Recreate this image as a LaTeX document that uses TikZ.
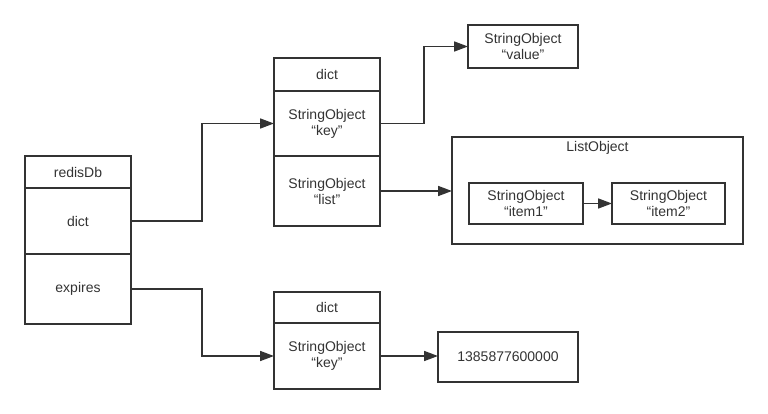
\documentclass[tikz,border=0pt]{standalone}
\usepackage{fontspec}
\setmainfont{Liberation Sans}
\usepackage{tikz}
\usetikzlibrary{arrows.meta,calc,positioning}
\definecolor{linegray}{HTML}{333333}
\tikzset{>={Triangle[length=14pt,width=10pt]},
	field/.style={% one row of a struct box
		draw=linegray, rectangle,
		line width=1.6pt,
		outer sep=0pt,
		text=linegray,
		align=center,
		font=\fontsize{14}{16}\selectfont
	},
	link/.style={
		draw=linegray,
		line width=1.6pt
	}
}
\begin{document}
\begin{tikzpicture}[x=1pt,y=-1pt]
	\useasboundingbox (0,0) rectangle (768,414);
	% redisDb
	\node [field, minimum width=106pt, minimum height=32pt] (db) at (78,172) {redisDb};
	\node [field, minimum width=106pt, minimum height=66pt] (db-dict) at (78,221) {dict};
	\node [field, minimum width=106pt, minimum height=70pt] (db-exp) at (78,289) {expires};
	% dict
	\node [field, minimum width=106pt, minimum height=33pt] (d1) at (327,74.5) {dict};
	\node [field, minimum width=106pt, minimum height=65pt] (d1-key) at (327,123.5) {StringObject\\“key”};
	\node [field, minimum width=106pt, minimum height=70pt] (d1-list) at (327,191) {StringObject\\“list”};
	\node [field, minimum width=110pt, minimum height=43pt] (val) at (523,46.5) {StringObject\\“value”};
	% list object
	\node [field, minimum width=291pt, minimum height=107pt] (lobj) at (597.5,190.5) {};
	\node [field, draw=none] (lobj-title) at (597.5,148) {ListObject};
	\node [field, minimum width=114pt, minimum height=41pt] (item1) at (526,203.5) {StringObject\\“item1”};
	\node [field, minimum width=113pt, minimum height=41pt] (item2) at (668.5,203.5) {StringObject\\“item2”};
	% expires
	\node [field, minimum width=106pt, minimum height=31pt] (d2) at (327,307.5) {dict};
	\node [field, minimum width=106pt, minimum height=66pt] (d2-key) at (327,356) {StringObject\\“key”};
	\node [field, minimum width=140pt, minimum height=50pt] (num) at (508,357) {1385877600000};
	\draw [link, ->] (db-dict.east) -- ++(71,0) |- (d1-key.west);
	\draw [link, ->] (d1-key.east) -- ++(44,0) |- (val.west);
	\draw [link, ->] (d1-list.east) -- (lobj.west |- d1-list.east);
	\draw [link, ->] (item1) -- (item2);
	\draw [link, ->] (db-exp.east) -- ++(71,0) |- (d2-key.west);
	\draw [link, ->] (d2-key.east) -- (num.west |- d2-key.east);
\end{tikzpicture}
\end{document}
